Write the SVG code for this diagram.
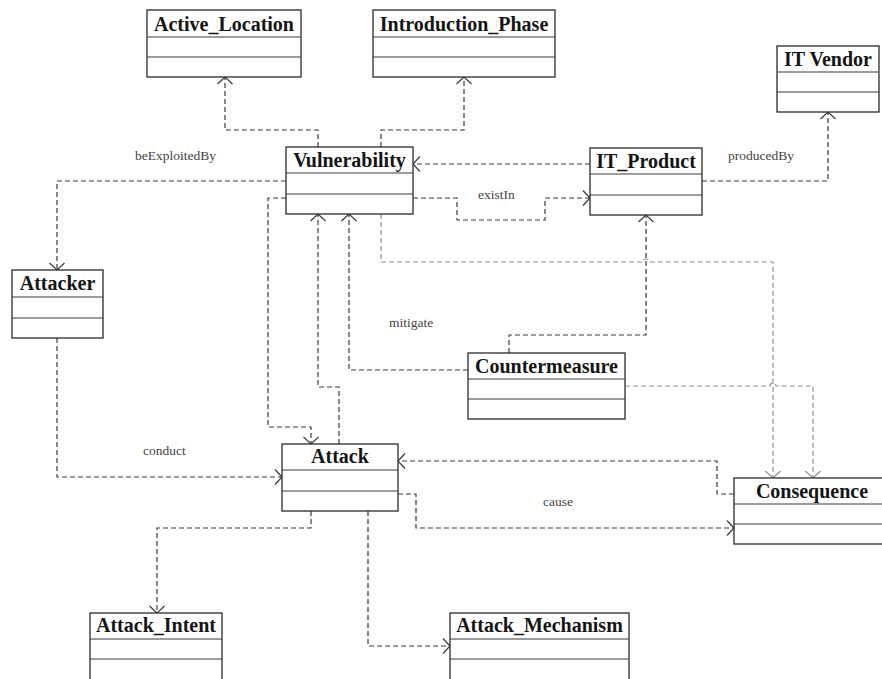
<svg xmlns="http://www.w3.org/2000/svg" width="882" height="679" viewBox="0 0 882 679">
  <defs>
    <style>
      .box rect { fill: #ffffff; stroke: #2a2a2a; stroke-width: 1.3; }
      .box line { stroke: #3a3a3a; stroke-width: 1.2; }
      .box text { font-family: "Liberation Serif", "Times New Roman", serif; font-weight: bold; font-size: 20px; fill: #151515; text-anchor: middle; }
      .dep { fill: none; stroke: #3a3a3a; stroke-width: 1.2; stroke-dasharray: 5 3; marker-end: url(#arrow); }
      .dep.light { stroke: #8e8e8e; marker-end: url(#arrowLight); }
      .lbl { font-family: "Liberation Serif", "Times New Roman", serif; font-size: 13.5px; fill: #444444; }
    </style>
    <marker id="arrow" markerUnits="userSpaceOnUse" markerWidth="18" markerHeight="18" viewBox="-9 -9 18 18" refX="0" refY="0" orient="auto">
      <path d="M-7,-7.5 L0,0 L-7,7.5" fill="none" stroke="#3a3a3a" stroke-width="1.2"/>
    </marker>
    <marker id="arrowLight" markerUnits="userSpaceOnUse" markerWidth="18" markerHeight="18" viewBox="-9 -9 18 18" refX="0" refY="0" orient="auto">
      <path d="M-7,-7.5 L0,0 L-7,7.5" fill="none" stroke="#8e8e8e" stroke-width="1.2"/>
    </marker>
  </defs>

  <rect x="0" y="0" width="882" height="679" fill="#ffffff"/>

  <!-- dependency connectors -->
  <g id="connectors">
    <path class="dep" d="M318,147 V130 H225 V77"/>
    <path class="dep" d="M381,147 V130 H464 V77"/>
    <path class="dep" d="M590,164 H413"/>
    <path class="dep" d="M413,198 H457 V220 H545 V198 H590"/>
    <path class="dep" d="M702,181 H828 V112"/>
    <path class="dep" d="M286,181 H57 V270"/>
    <path class="dep" d="M286,198 H268 V427 H311 V444"/>
    <path class="dep" d="M339,444 V387 H318 V214"/>
    <path class="dep" d="M468,370 H349 V214"/>
    <path class="dep" d="M509,353 V335 H646 V215"/>
    <path class="dep light" d="M381,214 V262 H643 a3,3 0 0 1 6,0 H773 V478"/>
    <path class="dep light" d="M625,386 H770 a3,3 0 0 1 6,0 H813 V478"/>
    <path class="dep" d="M57,338 V477 H282"/>
    <path class="dep" d="M734,494 H717 V461 H398"/>
    <path class="dep" d="M398,494 H416 V528 H734"/>
    <path class="dep" d="M311,511 V528 H157 V613"/>
    <path class="dep" d="M368,511 V646 H450"/>

    <text class="lbl" x="135" y="160">beExploitedBy</text>
    <text class="lbl" x="728" y="160">producedBy</text>
    <text class="lbl" x="478" y="199">existIn</text>
    <text class="lbl" x="389" y="327">mitigate</text>
    <text class="lbl" x="143" y="455">conduct</text>
    <text class="lbl" x="543" y="506">cause</text>
  </g>

  <!-- class boxes -->
  <g id="Active_Location" class="box">
    <rect x="147" y="10" width="154" height="67"/>
    <line x1="147" y1="37" x2="301" y2="37"/>
    <line x1="147" y1="57" x2="301" y2="57"/>
    <text x="224" y="31">Active_Location</text>
  </g>
  <g id="Introduction_Phase" class="box">
    <rect x="373" y="10" width="182" height="67"/>
    <line x1="373" y1="37" x2="555" y2="37"/>
    <line x1="373" y1="57" x2="555" y2="57"/>
    <text x="464" y="31">Introduction_Phase</text>
  </g>
  <g id="IT_Vendor" class="box">
    <rect x="777" y="46" width="102" height="66"/>
    <line x1="777" y1="72" x2="879" y2="72"/>
    <line x1="777" y1="92" x2="879" y2="92"/>
    <text x="828" y="66">IT Vendor</text>
  </g>
  <g id="Vulnerability" class="box">
    <rect x="286" y="147" width="127" height="67"/>
    <line x1="286" y1="173" x2="413" y2="173"/>
    <line x1="286" y1="194" x2="413" y2="194"/>
    <text x="349.5" y="167">Vulnerability</text>
  </g>
  <g id="IT_Product" class="box">
    <rect x="590" y="148" width="112" height="67"/>
    <line x1="590" y1="174" x2="702" y2="174"/>
    <line x1="590" y1="195" x2="702" y2="195"/>
    <text x="646" y="168">IT_Product</text>
  </g>
  <g id="Attacker" class="box">
    <rect x="12" y="270" width="91" height="68"/>
    <line x1="12" y1="297" x2="103" y2="297"/>
    <line x1="12" y1="318" x2="103" y2="318"/>
    <text x="57.5" y="290">Attacker</text>
  </g>
  <g id="Countermeasure" class="box">
    <rect x="468" y="353" width="157" height="66"/>
    <line x1="468" y1="379" x2="625" y2="379"/>
    <line x1="468" y1="399" x2="625" y2="399"/>
    <text x="546.5" y="373">Countermeasure</text>
  </g>
  <g id="Attack" class="box">
    <rect x="282" y="444" width="116" height="67"/>
    <line x1="282" y1="470" x2="398" y2="470"/>
    <line x1="282" y1="491" x2="398" y2="491"/>
    <text x="340" y="463">Attack</text>
  </g>
  <g id="Consequence" class="box">
    <rect x="734" y="478" width="156" height="66"/>
    <line x1="734" y1="504" x2="890" y2="504"/>
    <line x1="734" y1="524" x2="890" y2="524"/>
    <text x="812" y="498">Consequence</text>
  </g>
  <g id="Attack_Intent" class="box">
    <rect x="90" y="613" width="132" height="80"/>
    <line x1="90" y1="639" x2="222" y2="639"/>
    <line x1="90" y1="659" x2="222" y2="659"/>
    <text x="156" y="632">Attack_Intent</text>
  </g>
  <g id="Attack_Mechanism" class="box">
    <rect x="450" y="613" width="179" height="80"/>
    <line x1="450" y1="639" x2="629" y2="639"/>
    <line x1="450" y1="659" x2="629" y2="659"/>
    <text x="539.5" y="632">Attack_Mechanism</text>
  </g>
</svg>
